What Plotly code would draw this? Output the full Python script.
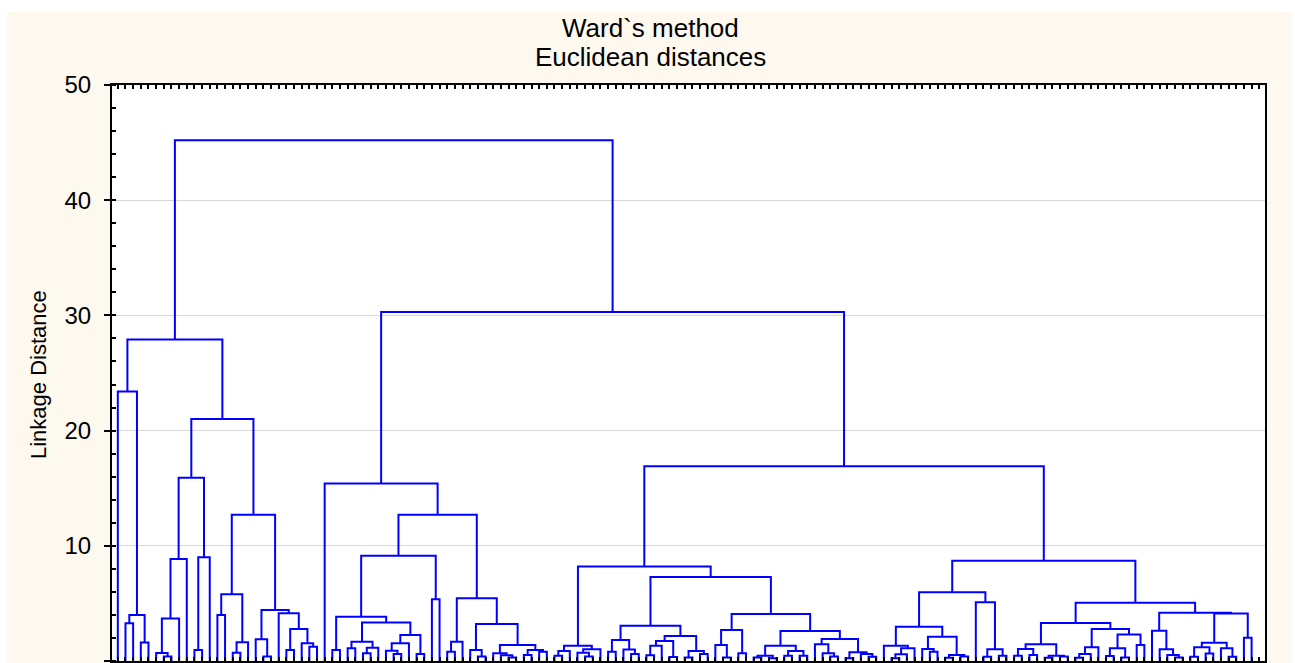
import plotly.graph_objects as go

# Ward linkage tree, written as nested (height, left, right) merges.
# Integers are leaves in dendrogram order (0 .. 148).
left_group = (27.9,
    (23.4, 0, (4.0, (3.27, 1, 2), (1.6, 3, 4))),
    (21.0,
        (15.9,
            (8.85, (3.7, (0.7, 5, (0.4, 6, 7)), 8), 9),
            (9.0, (0.95, 10, 11), 12)),
        (12.7,
            (5.8, (4.0, 13, 14), (1.62, (0.72, 15, 16), 17)),
            (4.43, (1.88, 18, (0.38, 19, 20)),
                   (4.14, 21, (2.78, (0.95, 22, 23), (1.53, 24, (1.24, 25, 26))))))))

middle_group = (15.4, 27,
    (12.7,
        (9.14,
            (3.85, (0.95, 28, 29),
                   (3.35, (1.68, (1.1, 30, 31), (1.16, (0.67, 32, 33), 34)),
                          (2.26, (1.53, (0.9, 35, (0.6, 36, 37)), 38), (0.6, 39, 40)))),
            (5.35, 41, 42)),
        (5.44,
            (1.68, (0.81, 43, 44), 45),
            (3.21, (0.95, 46, (0.4, 47, 48)),
                   (1.39, (0.67, 49, (0.5, 50, (0.3, 51, 52))),
                          (0.95, (0.52, 53, 54), (0.8, 55, 56)))))))

right_a = (8.2,
    (1.33, (0.87, (0.46, 57, 58), 59), (1.01, (0.72, 60, (0.4, 61, 62)), 63)),
    (7.3,
        (3.06,
            (1.82, (0.8, 64, 65), (1.0, 66, (0.6, 67, 68))),
            (2.17, (1.73, (1.33, (0.5, 69, 70), 71), (0.34, 72, 73)),
                   (0.87, (0.3, 74, 75), (0.6, 76, 77)))),
        (4.08,
            (2.69, (1.39, 78, (0.3, 79, 80)), (0.67, 81, 82)),
            (2.6,
                (1.33, (0.46, (0.3, 83, 84), (0.23, 85, 86)),
                       (0.87, (0.45, 87, 88), (0.45, 89, 90))),
                (1.91, (1.45, 91, (0.67, 92, (0.4, 93, 94))),
                       (0.75, (0.23, 95, 96), (0.6, 97, (0.37, 98, 99))))))))

right_b1 = (5.96,
    (2.98,
        (1.33, 100, (1.1, (0.58, (0.23, 101, 102), 103), 104)),
        (2.1, (1.04, 105, (0.8, 106, 107)), (0.52, (0.29, 108, 109), (0.4, 110, 111)))),
    (5.09, 112, (1.01, (0.37, 113, 114), (0.46, 115, 116))))

right_b2 = (5.06,
    (3.3,
        (1.45, (1.04, (0.46, 117, 118), (0.52, 119, 120)),
               (0.46, (0.29, 121, 122), (0.4, 123, 124))),
        (2.78, (1.19, (0.61, (0.29, 125, 126), 127), 128),
               (2.31, (1.1, (0.43, 129, 130), (0.3, 131, 132)), (1.39, 133, 134)))),
    (4.19,
        (2.63, 135, (1.01, 136, (0.52, 137, (0.3, 138, 139)))),
        (4.13, (1.59, (1.19, (0.37, 140, 141), (0.66, 142, 143)), (1.1, 144, (0.37, 145, 146))),
               (2.02, 147, 148))))

right_group = (30.3, middle_group, (16.9, right_a, (8.7, right_b1, right_b2)))
tree = (45.2, left_group, right_group)

n_leaves = 149
y_ticks = [0, 10, 20, 30, 40, 50]
title_lines = ["Ward`s method", "Euclidean distances"]
y_title = "Linkage Distance"

# Walk the tree and collect the bracket segments of every merge
xs, ys = [], []


def walk(node):
    if isinstance(node, int):
        return float(node), 0.0
    h, a, b = node
    xa, ha = walk(a)
    xb, hb = walk(b)
    xs.extend([xa, xa, xb, xb, None])
    ys.extend([ha, h, h, hb, None])
    return (xa + xb) / 2.0, h


walk(tree)

W, H = 1295, 663
ML, MR, MT, MB = 112, 30, 85, 2
PW, PH = W - ML - MR, H - MT - MB


def px(x):
    return (x - ML) / PW


def py(y):
    return (H - MB - y) / PH


fig = go.Figure()
fig.add_trace(go.Scatter(x=xs, y=ys, mode="lines",
                         line=dict(color="#0000FF", width=2),
                         hoverinfo="skip", showlegend=False))

# right-hand axis carrying the inner minor ticks
fig.update_layout(
    yaxis2=dict(overlaying="y", side="right", range=[0, 50], tick0=0, dtick=2,
                ticks="inside", ticklen=4, tickwidth=2, tickcolor="black",
                showticklabels=False, showgrid=False, zeroline=False, showline=False),
)

fig.update_layout(
    width=W, height=H,
    margin=dict(l=ML, r=MR, t=MT, b=MB),
    paper_bgcolor="#FDF9EF",
    plot_bgcolor="white",
    showlegend=False,
    font=dict(family="Liberation Sans, Arial, sans-serif", color="black"),
    xaxis=dict(range=[-0.76, 149.75], tick0=0, dtick=1, ticks="inside",
               ticklen=4, tickwidth=2, tickcolor="black", showticklabels=False,
               showgrid=False, zeroline=False, showline=True, linecolor="black",
               linewidth=2, mirror="ticks"),
    yaxis=dict(range=[0, 50], tickvals=y_ticks, ticktext=[str(v) for v in y_ticks],
               ticks="outside", ticklen=6, tickwidth=2, tickcolor="black",
               ticklabelstandoff=8,
               tickfont=dict(size=24, family="Liberation Sans, Arial, sans-serif"),
               showgrid=True, gridcolor="#D8D8D8", gridwidth=1,
               zeroline=False, showline=True, linecolor="black", linewidth=2,
               mirror=True,
               minor=dict(dtick=2, tick0=0, ticks="inside", ticklen=4,
                          tickwidth=2, tickcolor="black", showgrid=False)),
)

fig.add_annotation(x=px(650), y=py(28), xref="paper", yref="paper",
                   text=title_lines[0], showarrow=False, xanchor="center",
                   yanchor="middle", font=dict(size=26))
fig.add_annotation(x=px(650), y=py(57), xref="paper", yref="paper",
                   text=title_lines[1], showarrow=False, xanchor="center",
                   yanchor="middle", font=dict(size=26))
fig.add_annotation(x=px(38), y=py(375), xref="paper", yref="paper",
                   text=y_title, textangle=-90, showarrow=False,
                   xanchor="center", yanchor="middle", font=dict(size=22))

# white page edges around the cream panel
for x0, x1, y0, y1 in [(0, 7, 0, H), (0, W, 0, 12), (1292, W, 0, H)]:
    fig.add_shape(type="rect", xref="paper", yref="paper",
                  x0=px(x0), x1=px(x1), y0=py(y1), y1=py(y0),
                  fillcolor="white", line=dict(width=0), layer="above")

fig.write_html("out.html")
